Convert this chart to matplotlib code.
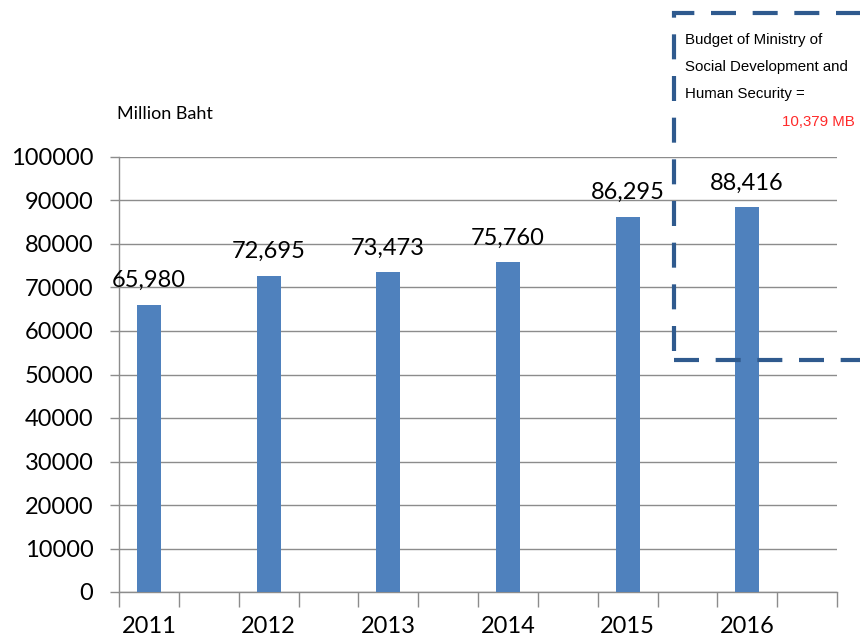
import matplotlib.pyplot as plt
import numpy as np

# budget per year, million baht
years = ['2011', '2012', '2013', '2014', '2015', '2016']
budget = [65980, 72695, 73473, 75760, 86295, 88416]
value_labels = ['65,980', '72,695', '73,473', '75,760', '86,295', '88,416']

box_lines = ['Budget of Ministry of', 'Social Development and', 'Human Security =']
ministry_budget = '10,379 MB'

bar_color = '#4F81BD'
grid_color = '#8C8C8C'
main_font = ['Lato', 'DejaVu Sans']
box_font = ['Liberation Sans', 'DejaVu Sans']

fig = plt.figure(figsize=(8.6, 6.42), dpi=100)
ax = fig.add_axes([119 / 860, 50 / 642, 718 / 860, 435 / 642])

# bars sit in every second slot, like the excel original
x = np.arange(len(years)) * 2
ax.bar(x, budget, width=0.4, color=bar_color, zorder=3)

for xi, v, lab in zip(x, budget, value_labels):
    ax.annotate(lab, (xi, v), xytext=(0, 10), textcoords='offset points',
                ha='center', va='bottom', fontsize=17, family=main_font, zorder=4)

ax.set_xlim(-0.5, 2 * len(years) - 0.5)
ax.set_ylim(0, 100000)
ax.set_yticks(np.arange(0, 100001, 10000))
ax.set_xticks(x)
ax.set_xticklabels(years)
ax.set_xticks(np.arange(-0.5, 2 * len(years), 1), minor=True)

ax.grid(axis='y', color=grid_color, linewidth=1, zorder=0)
for s in ['top', 'right']:
    ax.spines[s].set_visible(False)
for s in ['left', 'bottom']:
    ax.spines[s].set_color(grid_color)
    ax.spines[s].set_linewidth(1)

ax.tick_params(axis='y', length=6.5, width=1, color=grid_color, pad=12, labelsize=17)
ax.tick_params(axis='x', which='major', length=0, pad=17, labelsize=17)
ax.tick_params(axis='x', which='minor', length=11, width=1, color=grid_color)
for t in ax.get_xticklabels() + ax.get_yticklabels():
    t.set_family(main_font)

fig.text(117 / 860, 1 - 114 / 642, 'Million Baht', fontsize=13, family=main_font,
         ha='left', va='center')

# dashed call-out box, runs off the right edge
bx0, by0, bx1, by1 = 674 / 860, 1 - 360 / 642, 1.02, 1 - 13 / 642
box = plt.Rectangle((bx0, by0), bx1 - bx0, by1 - by0, transform=fig.transFigure,
                    fill=False, edgecolor='#2F5A8E', linewidth=3,
                    linestyle=(0, (6, 4)), clip_on=False, zorder=10)
fig.add_artist(box)

for i, line in enumerate(box_lines):
    fig.text(685 / 860, 1 - (40 + 27 * i) / 642, line, fontsize=10.8,
             family=box_font, ha='left', va='center')
fig.text(855 / 860, 1 - 122 / 642, ministry_budget, fontsize=10.8, color='#FF2A2A',
         family=box_font, ha='right', va='center')

fig.savefig('out.png', dpi=100)
